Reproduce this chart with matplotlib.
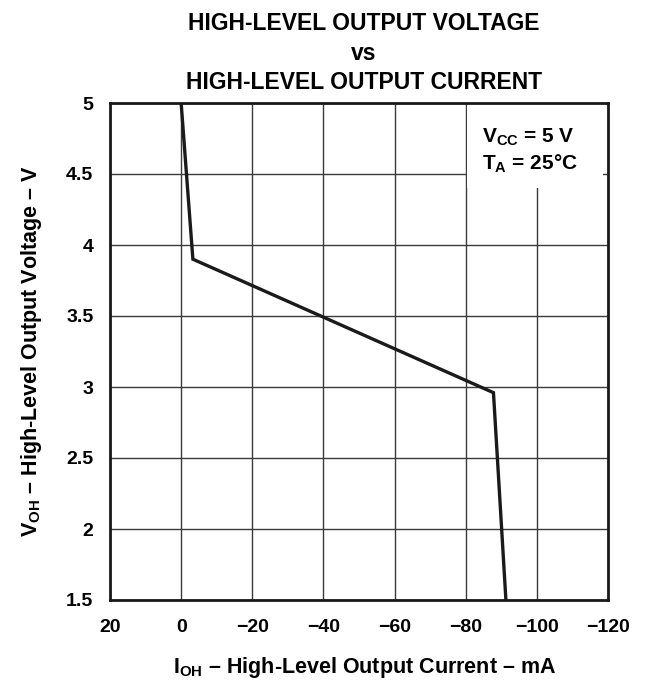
import matplotlib
matplotlib.use('Agg')
import matplotlib.pyplot as plt
from matplotlib.patches import Rectangle

plt.rcParams['font.family'] = ['Liberation Sans', 'DejaVu Sans']
plt.rcParams['font.weight'] = 'bold'
plt.rcParams['mathtext.fontset'] = 'custom'
plt.rcParams['mathtext.rm'] = 'Liberation Sans:bold'
plt.rcParams['mathtext.bf'] = 'Liberation Sans:bold'
plt.rcParams['mathtext.it'] = 'Liberation Sans:bold'

# curve
i_oh = [0, -3.3, -87.8, -91.3]   # mA
v_oh = [5.0, 3.90, 2.96, 1.5]    # V

xticks = [20, 0, -20, -40, -60, -80, -100, -120]
xticklabels = ['20', '0', '\u221220', '\u221240', '\u221260', '\u221280',
               '\u2212100', '\u2212120']
yticks = [1.5, 2, 2.5, 3, 3.5, 4, 4.5, 5]
yticklabels = ['1.5', '2', '2.5', '3', '3.5', '4', '4.5', '5']

DASH = '\u2013'

fig = plt.figure(figsize=(6.53, 6.85), dpi=100)
ax = fig.add_axes([110 / 653, 1 - 600 / 685, 498 / 653, 497 / 685])

ax.set_xlim(20, -120)
ax.set_ylim(1.5, 5)
ax.set_xticks(xticks)
ax.set_xticklabels(xticklabels, fontsize=14, fontweight='bold')
ax.set_yticks(yticks)
ax.set_yticklabels(yticklabels, fontsize=14, fontweight='bold')
ax.tick_params(axis='x', length=0, pad=14)
ax.tick_params(axis='y', length=0, pad=12)
ax.grid(True, color='#3a3a3a', linewidth=1.0)
ax.set_axisbelow(True)
for s in ax.spines.values():
    s.set_linewidth(2)
    s.set_color('#1a1a1a')

ax.plot(i_oh, v_oh, color='#1a1a1a', linewidth=2.4, solid_joinstyle='miter',
        zorder=3)

# white box behind the conditions text
ax.add_patch(Rectangle((-80.3, 4.40), -38.3, 0.60, facecolor='white',
                       edgecolor='none', zorder=2))
ax.text(-84.5, 4.72, r'V$_{\mathrm{CC}}$ = 5 V', fontsize=15,
        fontweight='bold', ha='left', va='baseline', zorder=4)
ax.text(-84.5, 4.53, r'T$_{\mathrm{A}}$ = 25°C', fontsize=15,
        fontweight='bold', ha='left', va='baseline', zorder=4)

# three-line title
title_lines = ['HIGH-LEVEL OUTPUT VOLTAGE', 'vs', 'HIGH-LEVEL OUTPUT CURRENT']
title_base = [30, 60, 89]
for line, yb in zip(title_lines, title_base):
    fig.text(364 / 653, 1 - yb / 685, line, fontsize=16.5,
             fontweight='bold', ha='center', va='baseline')

ax.set_xlabel(r'I$_{\mathrm{OH}}$ ' + DASH + ' High-Level Output Current '
              + DASH + ' mA', fontsize=15.5, fontweight='bold', labelpad=16)
ax.set_ylabel(r'V$_{\mathrm{OH}}$ ' + DASH + ' High-Level Output Voltage '
              + DASH + ' V', fontsize=15.5, fontweight='bold', labelpad=16)
ax.xaxis.set_label_coords(0.512, -0.11)

fig.savefig('out.png', dpi=100)
